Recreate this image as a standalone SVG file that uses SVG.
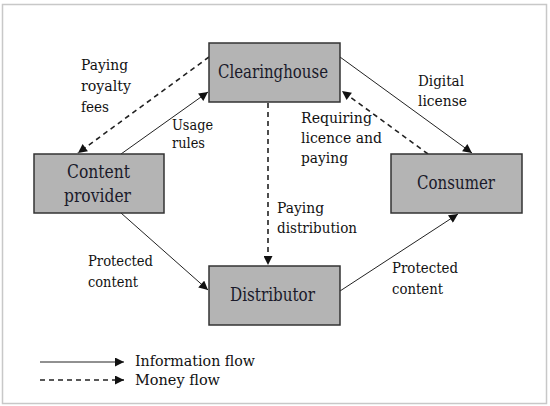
<svg xmlns="http://www.w3.org/2000/svg" width="550" height="406" viewBox="0 0 550 406">
<style>
text{font-family:"DejaVu Serif","Liberation Serif",serif}
.node{fill:#b4b4b4;stroke:#333;stroke-width:1.5}
.nt{font-size:18.5px;fill:#1a1a2a}
.lb{font-size:15px;fill:#111}
.info{stroke:#222;stroke-width:1;fill:none}
.money{stroke:#222;stroke-width:1.6;fill:none;stroke-dasharray:5,4}
</style>
<defs>
<marker id="ah" viewBox="0 0 10 10" refX="10" refY="5" markerWidth="10" markerHeight="9" markerUnits="userSpaceOnUse" orient="auto">
<path d="M0,0 L10,5 L0,10 Z" fill="#111"/>
</marker>
</defs>
<rect x="0" y="0" width="550" height="406" fill="#fff"/>
<rect x="2.5" y="4.5" width="544" height="399" fill="none" stroke="#c8c8c8" stroke-width="1.5"/>
<g id="connectors">
<line class="money" x1="209" y1="57" x2="78" y2="153" marker-end="url(#ah)"/>
<line class="info" x1="121" y1="154" x2="208" y2="92" marker-end="url(#ah)"/>
<line class="info" x1="340" y1="57" x2="472" y2="153" marker-end="url(#ah)"/>
<line class="money" x1="428" y1="154" x2="342" y2="91" marker-end="url(#ah)"/>
<line class="money" x1="268" y1="103" x2="268" y2="265" marker-end="url(#ah)"/>
<line class="info" x1="121" y1="213" x2="208" y2="290" marker-end="url(#ah)"/>
<line class="info" x1="340" y1="291" x2="458" y2="214" marker-end="url(#ah)"/>
<line class="info" x1="40" y1="362" x2="124" y2="362" marker-end="url(#ah)"/>
<line class="money" x1="40" y1="380" x2="124" y2="380" marker-end="url(#ah)" stroke-width="1.2"/>
</g>
<g id="clearinghouse">
<rect class="node" x="209" y="43" width="131" height="59"/>
<text class="nt" x="218" y="78" textLength="110" lengthAdjust="spacingAndGlyphs">Clearinghouse</text>
</g>
<g id="content-provider">
<rect class="node" x="34" y="154" width="130" height="59"/>
<text class="nt" x="67" y="178" textLength="63" lengthAdjust="spacingAndGlyphs">Content</text>
<text class="nt" x="64" y="202" textLength="67" lengthAdjust="spacingAndGlyphs">provider</text>
</g>
<g id="consumer">
<rect class="node" x="391" y="154" width="131" height="59"/>
<text class="nt" x="417" y="189" textLength="78" lengthAdjust="spacingAndGlyphs">Consumer</text>
</g>
<g id="distributor">
<rect class="node" x="209" y="266" width="131" height="59"/>
<text class="nt" x="230" y="301" textLength="85" lengthAdjust="spacingAndGlyphs">Distributor</text>
</g>
<g id="labels">
<text class="lb" x="81" y="70" textLength="47" lengthAdjust="spacingAndGlyphs">Paying</text>
<text class="lb" x="81" y="91" textLength="50" lengthAdjust="spacingAndGlyphs">royalty</text>
<text class="lb" x="81" y="112" textLength="28" lengthAdjust="spacingAndGlyphs">fees</text>
<text class="lb" x="172" y="130" textLength="41" lengthAdjust="spacingAndGlyphs">Usage</text>
<text class="lb" x="172" y="148" textLength="33" lengthAdjust="spacingAndGlyphs">rules</text>
<text class="lb" x="418" y="86" textLength="46" lengthAdjust="spacingAndGlyphs">Digital</text>
<text class="lb" x="418" y="106" textLength="49" lengthAdjust="spacingAndGlyphs">license</text>
<text class="lb" x="301" y="123" textLength="71" lengthAdjust="spacingAndGlyphs">Requiring</text>
<text class="lb" x="301" y="143" textLength="81" lengthAdjust="spacingAndGlyphs">licence and</text>
<text class="lb" x="301" y="163" textLength="47" lengthAdjust="spacingAndGlyphs">paying</text>
<text class="lb" x="277" y="213" textLength="47" lengthAdjust="spacingAndGlyphs">Paying</text>
<text class="lb" x="277" y="233" textLength="80" lengthAdjust="spacingAndGlyphs">distribution</text>
<text class="lb" x="88" y="266" textLength="65" lengthAdjust="spacingAndGlyphs">Protected</text>
<text class="lb" x="88" y="287" textLength="50" lengthAdjust="spacingAndGlyphs">content</text>
<text class="lb" x="392" y="273" textLength="66" lengthAdjust="spacingAndGlyphs">Protected</text>
<text class="lb" x="392" y="294" textLength="51" lengthAdjust="spacingAndGlyphs">content</text>
<text class="lb" x="135" y="366" textLength="120" lengthAdjust="spacingAndGlyphs">Information flow</text>
<text class="lb" x="135" y="385" textLength="85" lengthAdjust="spacingAndGlyphs">Money flow</text>
</g>
</svg>
